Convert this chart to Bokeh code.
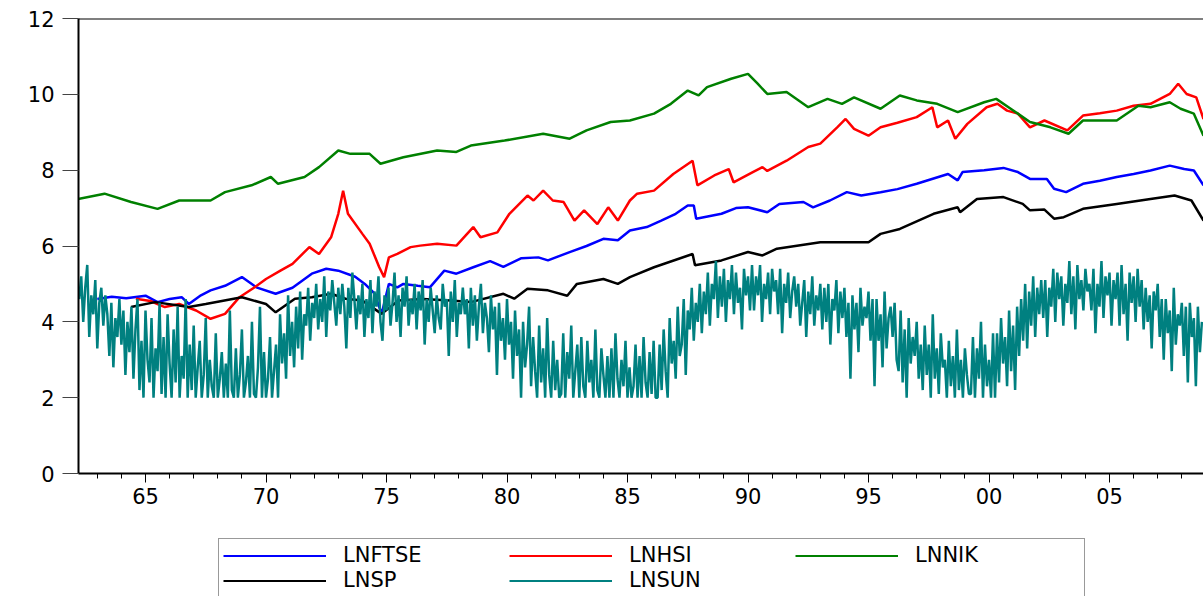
import numpy as np
from bokeh.plotting import figure
from bokeh.layouts import column
from bokeh.models import FixedTicker, Span, Legend, LegendItem, Range1d
from bokeh.embed import file_html
from bokeh.resources import INLINE

# ---------------- data ----------------
ftse_year = [1963.0, 1963.6, 1964.2, 1965.0, 1965.5, 1966.0, 1966.5, 1966.8, 1967.3, 1967.7,
             1968.3, 1969.0, 1969.6, 1970.4, 1971.1, 1971.9, 1972.5, 1973.0, 1973.7, 1974.1,
             1974.5, 1974.8, 1975.1, 1975.45, 1975.7, 1976.3, 1976.8, 1977.4, 1977.9, 1978.6,
             1979.3, 1979.85, 1980.6, 1981.3, 1981.7, 1982.6, 1983.3, 1984.0, 1984.6, 1985.1,
             1985.8, 1986.4, 1987.0, 1987.5, 1987.75, 1987.85, 1988.9, 1989.5, 1990.0, 1990.8,
             1991.3, 1992.3, 1992.7, 1993.4, 1994.1, 1994.7, 1995.5, 1996.2, 1997.0, 1998.3,
             1998.7, 1998.9, 1999.8, 2000.6, 2001.2, 2001.7, 2002.4, 2002.7, 2003.2, 2003.9,
             2004.6, 2005.3, 2006.0, 2006.7, 2007.5, 2008.1, 2008.5, 2008.9]
ftse_val = [4.60, 4.66, 4.62, 4.69, 4.52, 4.60, 4.65, 4.47, 4.70, 4.83,
            4.95, 5.18, 4.91, 4.74, 4.90, 5.27, 5.40, 5.35, 5.19, 5.00,
            4.75, 4.21, 5.00, 4.91, 5.00, 4.95, 4.91, 5.35, 5.27, 5.44,
            5.60, 5.45, 5.68, 5.70, 5.62, 5.84, 6.00, 6.19, 6.15, 6.41,
            6.50, 6.67, 6.85, 7.07, 7.07, 6.72, 6.85, 7.00, 7.02, 6.89,
            7.11, 7.16, 7.02, 7.20, 7.42, 7.33, 7.42, 7.50, 7.64, 7.90,
            7.73, 7.95, 8.00, 8.06, 7.95, 7.77, 7.77, 7.51, 7.42, 7.64,
            7.72, 7.82, 7.90, 7.99, 8.12, 8.03, 7.99, 7.60]

hsi_year = [1964.6, 1965.2, 1965.8, 1966.4, 1967.1, 1967.7, 1968.3, 1968.9, 1969.5, 1970.0,
            1970.6, 1971.1, 1971.8, 1972.2, 1972.7, 1973.0, 1973.2, 1973.4, 1974.0, 1974.3,
            1974.7, 1974.9, 1975.1, 1975.45, 1976.0, 1976.4, 1977.1, 1977.9, 1978.6, 1978.9,
            1979.6, 1980.1, 1980.85, 1981.1, 1981.5, 1981.9, 1982.35, 1982.8, 1983.2, 1983.75,
            1984.2, 1984.6, 1985.1, 1985.4, 1986.1, 1986.9, 1987.7, 1987.9, 1988.6, 1989.2,
            1989.4, 1990.2, 1990.6, 1990.8, 1991.6, 1992.5, 1993.0, 1993.7, 1994.05, 1994.4,
            1995.0, 1995.5, 1996.2, 1997.0, 1997.65, 1997.85, 1998.3, 1998.6, 1999.1, 1999.9,
            2000.35, 2000.75, 2001.2, 2001.7, 2002.3, 2003.25, 2003.9, 2004.6, 2005.3, 2006.0,
            2006.7, 2007.5, 2007.85, 2008.2, 2008.6, 2008.9]
hsi_val = [4.61, 4.55, 4.39, 4.47, 4.30, 4.08, 4.21, 4.65, 4.90, 5.13,
           5.35, 5.53, 5.97, 5.79, 6.23, 6.85, 7.46, 6.85, 6.32, 6.06,
           5.44, 5.18, 5.70, 5.79, 5.97, 6.01, 6.06, 6.01, 6.50, 6.23,
           6.36, 6.85, 7.33, 7.20, 7.46, 7.20, 7.16, 6.67, 6.94, 6.58,
           7.02, 6.67, 7.20, 7.38, 7.46, 7.90, 8.25, 7.60, 7.86, 8.03,
           7.68, 7.95, 8.08, 7.98, 8.25, 8.61, 8.70, 9.13, 9.35, 9.09,
           8.91, 9.13, 9.25, 9.40, 9.66, 9.13, 9.31, 8.83, 9.22, 9.66,
           9.75, 9.57, 9.49, 9.13, 9.31, 9.05, 9.44, 9.50, 9.57, 9.70,
           9.75, 10.01, 10.28, 10.01, 9.92, 9.35]

nik_year = [1962.2, 1963.3, 1964.4, 1965.5, 1966.4, 1967.7, 1968.3, 1969.4, 1970.2, 1970.5,
            1971.6, 1972.2, 1973.0, 1973.5, 1974.3, 1974.75, 1975.7, 1977.1, 1977.9, 1978.5,
            1979.9, 1981.5, 1982.6, 1983.3, 1984.3, 1985.1, 1986.1, 1986.8, 1987.5, 1987.95,
            1988.3, 1989.3, 1990.0, 1990.4, 1990.8, 1991.6, 1992.5, 1993.3, 1993.9, 1994.4,
            1995.5, 1996.3, 1997.0, 1997.85, 1998.7, 1999.8, 2000.3, 2000.9, 2001.7, 2002.55,
            2003.3, 2003.9, 2005.3, 2006.2, 2006.7, 2007.5, 2007.95, 2008.5, 2008.9]
nik_val = [7.24, 7.38, 7.16, 6.98, 7.20, 7.20, 7.42, 7.60, 7.82, 7.64,
           7.82, 8.08, 8.52, 8.43, 8.43, 8.17, 8.34, 8.52, 8.48, 8.65,
           8.78, 8.96, 8.83, 9.05, 9.27, 9.31, 9.49, 9.75, 10.10, 9.97,
           10.19, 10.41, 10.54, 10.28, 10.01, 10.06, 9.66, 9.88, 9.75, 9.92,
           9.62, 9.97, 9.84, 9.75, 9.53, 9.79, 9.88, 9.62, 9.27, 9.13,
           8.96, 9.31, 9.31, 9.70, 9.66, 9.79, 9.62, 9.49, 8.91]

sp_year = [1964.4, 1965.4, 1966.8, 1967.5, 1969.0, 1970.0, 1970.4, 1971.2, 1971.9, 1972.7,
           1973.3, 1974.0, 1974.8, 1975.5, 1976.5, 1977.65, 1978.5, 1979.85, 1980.3, 1980.85,
           1981.7, 1982.5, 1982.9, 1984.0, 1984.6, 1985.1, 1986.1, 1987.7, 1987.8, 1988.9,
           1990.0, 1990.6, 1991.2, 1993.0, 1995.0, 1995.5, 1996.3, 1997.7, 1998.7, 1998.8,
           1999.5, 2000.6, 2001.4, 2001.7, 2002.3, 2002.7, 2003.1, 2003.9, 2005.3, 2006.7,
           2007.7, 2008.4, 2008.9]
sp_val = [4.39, 4.52, 4.39, 4.47, 4.65, 4.47, 4.25, 4.61, 4.65, 4.74,
          4.61, 4.56, 4.21, 4.56, 4.60, 4.56, 4.52, 4.74, 4.61, 4.87,
          4.83, 4.69, 5.00, 5.13, 5.00, 5.18, 5.44, 5.79, 5.49, 5.62,
          5.84, 5.75, 5.93, 6.10, 6.10, 6.32, 6.45, 6.85, 7.02, 6.89,
          7.24, 7.29, 7.11, 6.94, 6.96, 6.72, 6.76, 6.98, 7.11, 7.24,
          7.33, 7.20, 6.67]

# LNSUN: twelve readings per year (one row per year), first reading at 1962.25
sun_start = 1962.25
sun_step = 1.0 / 12.0
sun_val = [
    4.6, 5.2, 4.0, 4.9, 5.5, 3.6, 4.7, 4.2, 5.1, 3.3, 4.5, 4.9,
    3.9, 4.7, 4.2, 3.1, 4.5, 2.8, 4.1, 3.6, 4.6, 3.4, 4.3, 2.6,
    4.0, 3.2, 4.4, 2.5, 3.8, 4.6, 2.2, 3.5, 2.0, 4.3, 3.0, 2.4,
    4.1, 2.0, 3.3, 2.7, 4.5, 2.1, 3.6, 2.0, 4.2, 2.9, 2.0, 3.8,
    2.4, 4.4, 2.0, 3.1, 2.5, 4.6, 2.0, 3.4, 2.2, 3.9, 2.0, 2.8,
    3.5, 2.0, 2.6, 4.1, 2.0, 3.0, 2.3, 2.0, 3.7, 2.0, 2.5, 3.2,
    2.0, 2.9, 2.0, 4.3, 2.2, 2.0, 3.3, 2.0, 2.6, 3.8, 2.0, 2.4,
    3.1, 2.0, 4.0, 2.1, 2.0, 2.8, 4.4, 2.0, 3.2, 2.0, 2.5, 3.6,
    2.0, 2.7, 3.4, 2.0, 4.2, 2.9, 3.7, 2.5, 4.7, 3.1, 4.0, 2.8,
    4.4, 3.3, 4.8, 3.0, 4.2, 3.9, 4.9, 3.5, 4.5, 4.1, 5.0, 3.8,
    4.6, 4.0, 5.2, 3.6, 4.8, 4.3, 5.1, 4.5, 3.9, 4.9, 4.2, 5.0,
    4.4, 3.3, 4.9, 4.1, 5.3, 4.6, 3.8, 4.7, 4.2, 5.0, 3.6, 4.6,
    4.1, 5.1, 3.7, 4.8, 4.4, 5.2, 4.0, 3.5, 4.7, 4.3, 4.9, 3.9,
    4.5, 5.3, 4.0, 4.7, 3.6, 4.9, 4.4, 5.2, 3.9, 4.6, 4.2, 5.0,
    3.8, 4.8, 4.3, 5.1, 3.4, 4.6, 4.0, 4.9, 4.3, 3.7, 4.7, 4.1,
    3.8, 5.0, 4.4, 4.6, 3.1, 4.8, 4.0, 5.1, 3.6, 4.5, 4.2, 4.9,
    4.2, 4.6, 3.3, 4.9, 3.9, 4.7, 3.5, 4.4, 5.0, 3.7, 4.5, 4.1,
    3.2, 4.7, 3.8, 4.4, 2.6, 4.5, 3.5, 4.1, 3.0, 4.6, 3.4, 4.0,
    2.5, 4.3, 3.1, 3.8, 2.0, 4.0, 2.8, 3.4, 4.4, 2.3, 3.6, 2.7,
    2.0, 3.9, 2.4, 3.3, 2.0, 4.1, 2.6, 2.0, 3.5, 2.2, 3.0, 2.0,
    2.1, 3.7, 2.0, 3.2, 2.5, 3.9, 2.0, 2.7, 3.4, 2.0, 3.6, 2.3,
    2.0, 3.5, 2.4, 3.0, 2.0, 3.8, 2.2, 2.0, 3.3, 2.6, 2.0, 3.1,
    2.0, 3.3, 2.0, 3.7, 2.5, 2.0, 3.0, 2.3, 3.5, 2.0, 2.8, 2.0,
    2.3, 3.4, 2.0, 3.1, 2.0, 3.6, 2.4, 2.0, 3.2, 2.1, 3.5, 2.0,
    2.0, 3.4, 2.2, 3.8, 2.7, 2.0, 4.1, 2.9, 3.5, 2.5, 4.4, 3.1,
    3.4, 4.6, 2.6, 4.3, 3.8, 4.9, 3.5, 4.5, 4.0, 5.0, 3.7, 4.8,
    4.2, 5.3, 3.9, 5.0, 4.6, 5.6, 4.1, 5.2, 4.4, 5.4, 4.0, 5.1,
    4.6, 5.5, 4.2, 5.3, 4.5, 4.9, 3.8, 5.4, 4.7, 5.2, 4.3, 5.5,
    4.3, 5.2, 4.7, 5.5, 4.0, 5.0, 4.6, 5.3, 4.2, 5.4, 4.8, 5.1,
    4.2, 5.4, 3.7, 5.0, 4.5, 5.3, 4.1, 4.8, 5.2, 4.4, 5.0, 3.9,
    4.5, 5.1, 3.6, 4.8, 4.2, 5.2, 3.9, 4.7, 4.3, 5.0, 3.8, 4.9,
    4.0, 5.0, 3.4, 4.6, 4.3, 5.1, 3.7, 4.8, 4.1, 4.9, 3.6, 4.5,
    2.5, 4.7, 3.8, 4.5, 3.2, 4.9, 3.9, 4.4, 4.1, 4.8, 3.5, 4.6,
    2.3, 4.6, 3.5, 4.2, 2.8, 4.8, 3.3, 4.1, 4.4, 3.6, 4.5, 3.0,
    2.7, 4.3, 2.4, 3.8, 2.0, 4.1, 2.9, 3.6, 3.1, 4.0, 2.5, 3.4,
    2.2, 3.9, 2.6, 3.4, 2.0, 4.2, 2.5, 3.3, 2.1, 3.7, 2.8, 3.0,
    2.0, 3.5, 2.3, 3.1, 2.0, 3.8, 2.2, 3.0, 2.0, 3.3, 2.6, 2.1,
    2.1, 3.6, 2.0, 3.3, 2.5, 4.0, 2.0, 3.4, 2.3, 3.0, 2.0, 3.7,
    2.0, 3.7, 2.4, 4.1, 2.9, 3.6, 2.3, 4.3, 2.7, 3.9, 2.2, 4.4,
    3.1, 4.6, 3.5, 5.0, 3.3, 4.8, 3.9, 5.2, 3.6, 4.9, 4.2, 5.1,
    4.1, 5.1, 3.6, 4.9, 4.4, 5.4, 4.0, 5.3, 4.6, 5.2, 3.9, 5.0,
    4.5, 5.6, 4.2, 5.2, 3.8, 5.5, 4.6, 5.1, 4.3, 5.4, 4.8, 5.0,
    4.3, 5.4, 3.7, 5.0, 4.4, 5.6, 4.1, 5.2, 4.7, 5.3, 3.9, 5.1,
    4.6, 5.3, 3.9, 5.5, 4.2, 5.0, 3.5, 5.3, 4.5, 5.2, 4.0, 5.4,
    4.4, 5.1, 3.8, 4.9, 4.0, 4.7, 3.3, 4.8, 4.3, 5.0, 3.6, 4.6,
    3.0, 4.6, 3.7, 4.3, 2.7, 4.9, 3.4, 4.2, 3.9, 4.5, 3.1, 4.4,
    2.4, 4.5, 3.6, 4.1, 2.3, 4.4, 3.2, 4.0,
]
sun_year = sun_start + sun_step * np.arange(len(sun_val))

y_ticks = [0, 2, 4, 6, 8, 10, 12]
x_ticks = [1965, 1970, 1975, 1980, 1985, 1990, 1995, 2000, 2005]
x_tick_labels = ["65", "70", "75", "80", "85", "90", "95", "00", "05"]
x_minor = list(range(1963, 2009))

series = [
    ("LNFTSE", ftse_year, ftse_val, "#0000FF"),
    ("LNHSI", hsi_year, hsi_val, "#FF0000"),
    ("LNNIK", nik_year, nik_val, "#008000"),
    ("LNSP", sp_year, sp_val, "#000000"),
    ("LNSUN", list(sun_year), sun_val, "#008080"),
]

FONT = "DejaVu Sans"
X_RANGE = (1962.22, 2008.9)

# ---------------- main chart ----------------
p = figure(width=1203, height=538, output_backend="svg", toolbar_location=None,
           x_range=Range1d(*X_RANGE), y_range=Range1d(0, 12),
           min_border_left=78, min_border_top=18, min_border_right=0, min_border_bottom=65)
p.outline_line_color = None
p.grid.visible = False
p.background_fill_color = "white"
p.border_fill_color = "white"

for name, xs, ys, col in series:
    p.line(xs, ys, line_color=col, line_width=2.5)

p.add_layout(Span(location=12, dimension="width", line_color="black", line_width=2))

ya = p.yaxis[0]
ya.ticker = FixedTicker(ticks=y_ticks)
ya.major_tick_out = 16
ya.major_tick_in = 0
ya.minor_tick_out = 0
ya.minor_tick_in = 0
ya.axis_line_width = 2
ya.axis_line_color = "black"
ya.major_tick_line_color = "#444444"
ya.major_label_standoff = 8
ya.major_label_text_font = FONT
ya.major_label_text_font_size = "21px"
ya.major_label_text_color = "black"

xa = p.xaxis[0]
xa.ticker = FixedTicker(ticks=x_ticks, minor_ticks=x_minor)
xa.major_label_overrides = {t: s for t, s in zip(x_ticks, x_tick_labels)}
xa.major_tick_out = 9
xa.major_tick_in = 0
xa.minor_tick_out = 5
xa.minor_tick_in = 0
xa.axis_line_width = 2
xa.axis_line_color = "black"
xa.major_tick_line_color = "black"
xa.minor_tick_line_color = "black"
xa.major_label_standoff = 5
xa.major_label_text_font = FONT
xa.major_label_text_font_size = "21px"
xa.major_label_text_color = "black"

# ---------------- legend strip (same series, drawn outside its visible range) ----------------
leg = figure(width=1203, height=58, output_backend="svg", toolbar_location=None,
             x_range=Range1d(*X_RANGE), y_range=Range1d(100, 101),
             x_axis_location=None, y_axis_location=None,
             min_border_left=0, min_border_top=0, min_border_right=0, min_border_bottom=0)
leg.outline_line_color = None
leg.grid.visible = False
leg.background_fill_color = "white"
leg.border_fill_color = "white"

items = []
for name, xs, ys, col in series:
    r = leg.line(xs, ys, line_color=col, line_width=2)
    items.append(LegendItem(label=name, renderers=[r]))

legend = Legend(items=items, orientation="horizontal", ncols=3, location=(140, -1),
                margin=0, padding=4, spacing=1,
                glyph_width=103, glyph_height=21, label_height=21,
                label_standoff=17, label_width=165,
                label_text_font=FONT, label_text_font_size="21px",
                label_text_color="black",
                border_line_color="#333333", border_line_width=1.5,
                background_fill_color="white", background_fill_alpha=1.0)
leg.add_layout(legend, "center")

root = column(p, leg, spacing=0)
open("out.html", "w").write(file_html(root, INLINE))
